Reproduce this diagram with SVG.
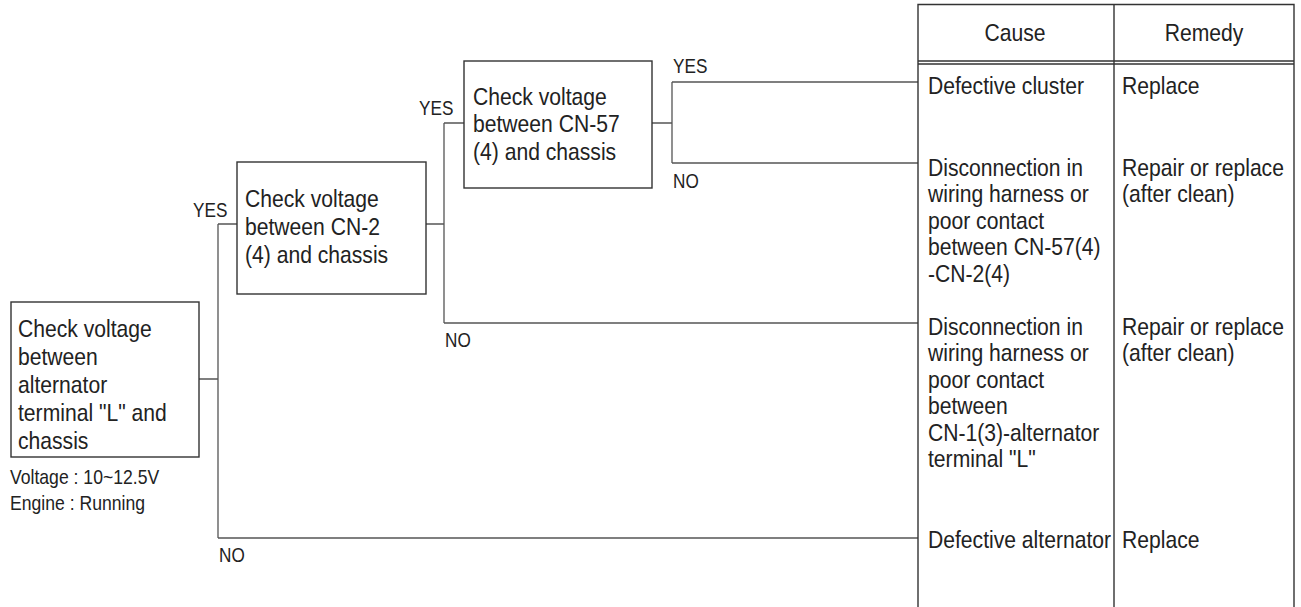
<svg xmlns="http://www.w3.org/2000/svg" width="1301" height="607" viewBox="0 0 1301 607">
<style>
.box{fill:#fff;stroke:#333;stroke-width:1.4}
.ln{fill:none;stroke:#555;stroke-width:1.3}
.tb{fill:none;stroke:#333;stroke-width:1.4}
text{font-family:"Liberation Sans",Arial,sans-serif;fill:#222}
.t{font-size:24px}
.s{font-size:20px}
.l{font-size:19.5px}
</style>
<rect width="1301" height="607" fill="#fff"/>
<g id="connectors">
<path class="ln" d="M198,379H218M218,224V538M218,224H237M218,538H918M426,224H444M444,123V323M444,123H464M444,323H918M652,123H672M672,82V163M672,82H918M672,163H918"/>
</g>
<g id="labels">
<text class="l" transform="translate(193,217) scale(0.88,1)">YES</text>
<text class="l" transform="translate(219,562) scale(0.88,1)">NO</text>
<text class="l" transform="translate(419,115) scale(0.88,1)">YES</text>
<text class="l" transform="translate(445,347) scale(0.88,1)">NO</text>
<text class="l" transform="translate(673,73) scale(0.88,1)">YES</text>
<text class="l" transform="translate(673,188) scale(0.88,1)">NO</text>
</g>
<g id="node1">
<rect class="box" x="11" y="302" width="188" height="155"/>
<text class="t" transform="translate(18,337) scale(0.88,1)"><tspan x="0" y="0">Check voltage</tspan><tspan x="0" y="28">between</tspan><tspan x="0" y="56">alternator</tspan><tspan x="0" y="84">terminal "L" and</tspan><tspan x="0" y="112">chassis</tspan></text>
<text class="s" transform="translate(10,484) scale(0.88,1)"><tspan x="0" y="0">Voltage : 10~12.5V</tspan><tspan x="0" y="26">Engine : Running</tspan></text>
</g>
<g id="node2">
<rect class="box" x="237" y="162" width="189" height="132"/>
<text class="t" transform="translate(245,207) scale(0.88,1)"><tspan x="0" y="0">Check voltage</tspan><tspan x="0" y="28">between CN-2</tspan><tspan x="0" y="56">(4) and chassis</tspan></text>
</g>
<g id="node3">
<rect class="box" x="464" y="61" width="188" height="127"/>
<text class="t" transform="translate(473,105) scale(0.88,1)"><tspan x="0" y="0">Check voltage</tspan><tspan x="0" y="27.5">between CN-57</tspan><tspan x="0" y="55">(4) and chassis</tspan></text>
</g>
<g id="table">
<path class="tb" d="M918,607V4.5H1294V607M1114,4.5V607M918,61H1294M918,64H1294"/>
<text class="t" text-anchor="middle" transform="translate(1015,41) scale(0.88,1)">Cause</text>
<text class="t" text-anchor="middle" transform="translate(1204,41) scale(0.88,1)">Remedy</text>
</g>
<g id="row1">
<text class="t" transform="translate(928,94) scale(0.88,1)">Defective cluster</text>
<text class="t" transform="translate(1122,94) scale(0.88,1)">Replace</text>
</g>
<g id="row2">
<text class="t" transform="translate(928,176) scale(0.88,1)"><tspan x="0" y="0">Disconnection in</tspan><tspan x="0" y="26.5">wiring harness or</tspan><tspan x="0" y="53">poor contact</tspan><tspan x="0" y="79.5">between CN-57(4)</tspan><tspan x="0" y="106">-CN-2(4)</tspan></text>
<text class="t" transform="translate(1122,176) scale(0.88,1)"><tspan x="0" y="0">Repair or replace</tspan><tspan x="0" y="26.5">(after clean)</tspan></text>
</g>
<g id="row3">
<text class="t" transform="translate(928,335) scale(0.88,1)"><tspan x="0" y="0">Disconnection in</tspan><tspan x="0" y="26.5">wiring harness or</tspan><tspan x="0" y="53">poor contact</tspan><tspan x="0" y="79.5">between</tspan><tspan x="0" y="106">CN-1(3)-alternator</tspan><tspan x="0" y="132.5">terminal "L"</tspan></text>
<text class="t" transform="translate(1122,335) scale(0.88,1)"><tspan x="0" y="0">Repair or replace</tspan><tspan x="0" y="26.5">(after clean)</tspan></text>
</g>
<g id="row4">
<text class="t" transform="translate(928,548) scale(0.88,1)">Defective alternator</text>
<text class="t" transform="translate(1122,548) scale(0.88,1)">Replace</text>
</g>
</svg>
